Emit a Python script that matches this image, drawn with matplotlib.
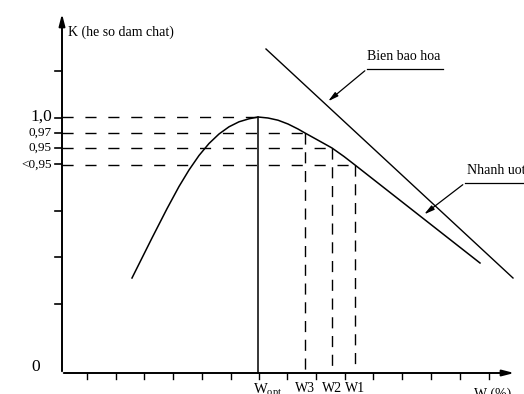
import matplotlib.pyplot as plt
import numpy as np

plt.rcParams['font.family'] = 'Liberation Serif'
plt.rcParams['mathtext.fontset'] = 'custom'
plt.rcParams['mathtext.rm'] = 'Liberation Serif'
plt.rcParams['mathtext.it'] = 'Liberation Serif:italic'

# schematic coordinates (origin = axis corner)
# compaction curve K(W)
curve_w = [70, 90, 105, 117, 127, 137, 147, 157, 167, 177, 187, 196,
           206, 216, 226, 236, 243, 256, 270, 282, 293, 418]
curve_k = [95, 135, 164.3, 186.5, 203, 217.5, 229.5, 239, 246.2, 251.2, 254.2, 256,
           255, 252.8, 249, 244, 240, 232.8, 225, 216.5, 208, 110]

# saturation line (Bien bao hoa)
sat_w = [204, 451]
sat_k = [324, 95]

# marked levels
k_marks = [256, 240, 225, 208]
k_labels = ['1,0', '0,97', '0,95', '<0,95']
k_sizes = [12.5, 9.5, 9.5, 9.5]
w_marks = [196, 243, 270, 293]
w_labels = [r'W$_{\rm opt}$', 'W3', 'W2', 'W1']

y_ticks = [69.5, 116, 162.5, 209, 255.5, 302, 240, 225]
x_ticks = [25, 54, 82, 111, 140, 169, 197, 225, 254, 283, 311, 340, 369, 398, 427]

fig = plt.figure(figsize=(5.24, 3.94), dpi=100)
ax = fig.add_axes([0, 0, 1, 1])
ax.set_xlim(-62, 462)
ax.set_ylim(-21, 373)
ax.axis('off')

# axes with arrows
ax.annotate('', xy=(0, 362), xytext=(0, -1),
            arrowprops=dict(arrowstyle='-|>,head_length=0.7,head_width=0.18', lw=1.4, color='black'))
ax.annotate('', xy=(455, 0), xytext=(-1, 0),
            arrowprops=dict(arrowstyle='-|>,head_length=0.7,head_width=0.18', lw=1.4, color='black'))

for t in y_ticks:
    ax.plot([-7, 0], [t, t], color='black', lw=1.2)
for t in x_ticks:
    ax.plot([t, t], [0, -6], color='black', lw=1.0)

# dashed guides
for w, k in zip(w_marks, k_marks):
    ax.plot([0, w], [k, k], color='black', lw=1.0, dashes=(8, 8.5))
for w, k in zip(w_marks[1:], k_marks[1:]):
    ax.plot([w, w], [k, 3], color='black', lw=1.0, dashes=(8, 5.5))
ax.plot([w_marks[0], w_marks[0]], [k_marks[0], 0], color='black', lw=1.1)

# curves
ax.plot(curve_w, curve_k, color='black', lw=1.1, solid_joinstyle='round')
ax.plot(sat_w, sat_k, color='black', lw=1.0)

# annotations
ax.plot([305, 381], [304, 304], color='black', lw=0.9)
ax.annotate('', xy=(264, 270), xytext=(305, 304),
            arrowprops=dict(arrowstyle='-|>,head_length=0.6,head_width=0.15', lw=0.9, color='black'))
ax.text(305, 310, 'Bien bao hoa', fontsize=10, ha='left', va='bottom')

ax.plot([403, 462], [190, 190], color='black', lw=0.9)
ax.annotate('', xy=(360, 157), xytext=(403, 190),
            arrowprops=dict(arrowstyle='-|>,head_length=0.6,head_width=0.15', lw=0.9, color='black'))
ax.text(405, 196, 'Nhanh uot', fontsize=10, ha='left', va='bottom')

# labels
ax.text(6, 341, 'K (he so dam chat)', fontsize=10, ha='left', va='center')
for k, lab, s in zip(k_marks, k_labels, k_sizes):
    ax.text(-10, k, lab, fontsize=s, ha='right', va='center')
ax.text(-22, 6, '0', fontsize=12.5, ha='right', va='center')

for w, lab in zip(w_marks, w_labels):
    if lab.startswith('W$'):
        ax.text(w - 5, -9, lab, fontsize=10.5, ha='left', va='top')
    else:
        ax.text(w, -9, lab, fontsize=10, ha='center', va='top')
ax.text(431, -15, 'W (%)', fontsize=10, ha='center', va='top')

fig.savefig('out.png', dpi=100)
